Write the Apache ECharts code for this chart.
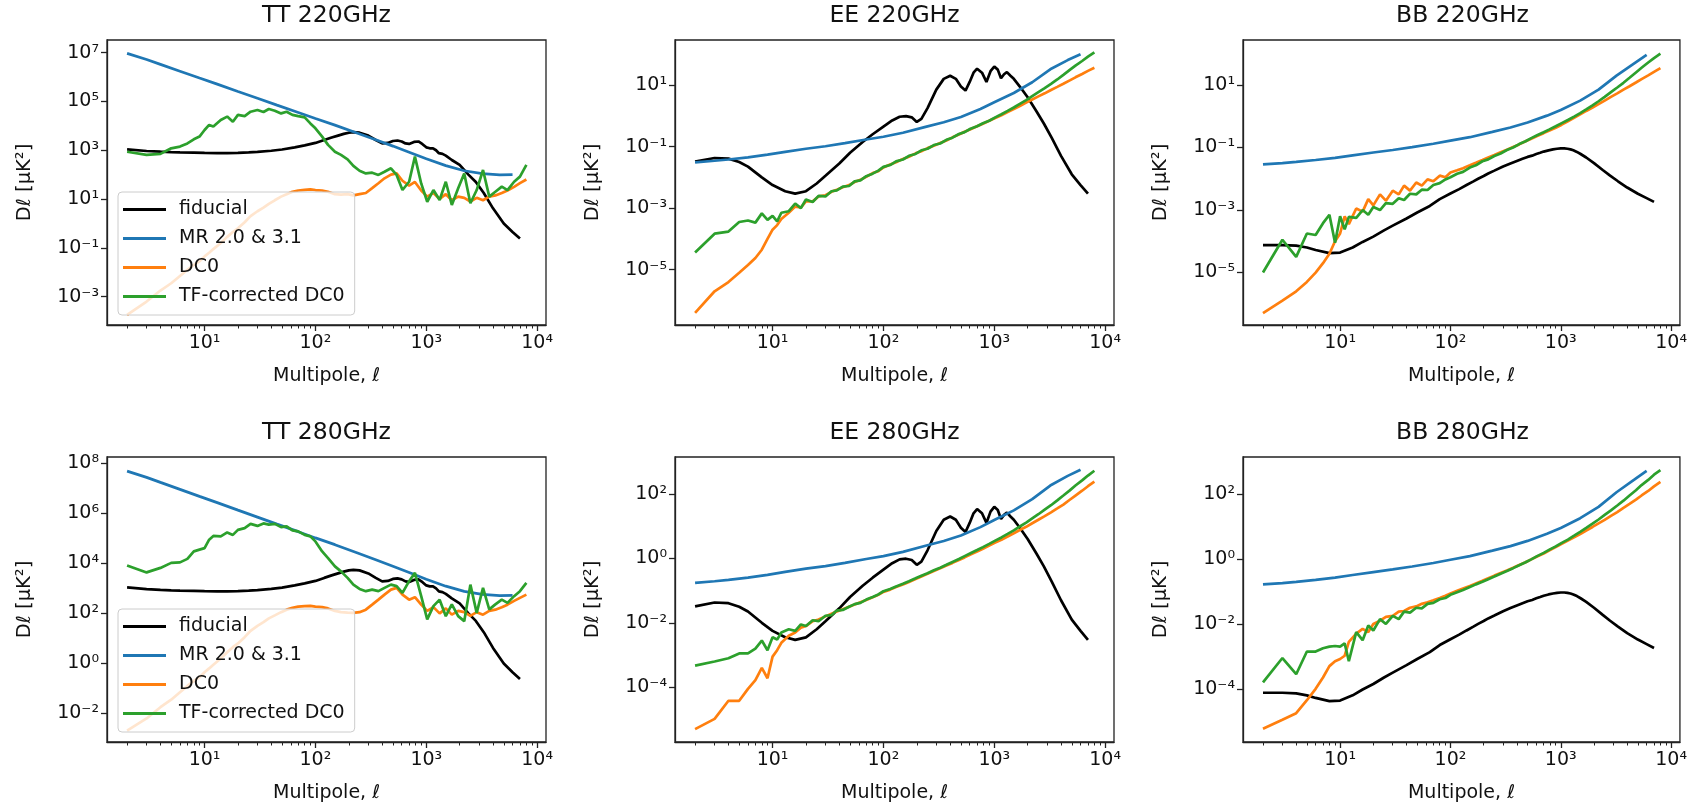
<!DOCTYPE html>
<html>
<head>
<meta charset="utf-8">
<script src="https://cdn.jsdelivr.net/npm/echarts@6/dist/echarts.min.js"></script>
<style>
html, body { margin: 0; padding: 0; background: #fff; }
#container { width: 1690px; height: 806px; }
</style>
</head>
<body>
<div id="container"></div>
<script>
// multipole grids
var ellMR = [2, 3, 4, 6, 9, 13, 20, 30, 45, 70, 100, 150, 240, 350, 500, 750, 1000, 1500, 2200, 3200, 4600, 6000];
var ellFid = [2, 3, 4, 5, 6, 8, 10, 13, 16, 20, 25, 30, 40, 50, 65, 80, 100, 120, 140, 160, 180, 200, 220, 250, 300, 350, 400, 450, 500, 550, 600, 650, 700, 775, 850, 925, 1000, 1075, 1150, 1225, 1300, 1400, 1500, 1700, 2000, 2400, 2800, 3300, 4000, 5000, 6000, 7000];
var ellDC0 = [2, 3, 4, 5, 6, 7, 8, 9, 10, 11, 12, 14, 16, 18, 20, 23, 26, 30, 34, 38, 43, 49, 55, 62, 70, 80, 90, 100, 115, 130, 150, 170, 195, 220, 250, 285, 325, 370, 420, 480, 540, 610, 700, 790, 900, 1020, 1160, 1320, 1500, 1700, 1940, 2200, 2500, 2850, 3250, 3700, 4200, 4800, 5400, 6200, 7000, 8000];

// all spectra below are log10(Dl / uK^2)

// fiducial (same at both frequencies)
var fidTT = [3.04, 2.97, 2.94, 2.92, 2.91, 2.90, 2.89, 2.88, 2.88, 2.89, 2.91, 2.93, 2.98, 3.03, 3.12, 3.2, 3.3, 3.42, 3.52, 3.6, 3.67, 3.72, 3.74, 3.72, 3.6, 3.42, 3.28, 3.3, 3.38, 3.4, 3.36, 3.28, 3.26, 3.34, 3.36, 3.25, 3.12, 3.08, 3.08, 3.0, 2.88, 2.85, 2.78, 2.6, 2.4, 2.0, 1.7, 1.25, 0.62, 0.0, -0.35, -0.62];
var fidEE = [-1.49, -1.37, -1.39, -1.5, -1.65, -2.0, -2.25, -2.45, -2.53, -2.45, -2.2, -1.95, -1.55, -1.2, -0.85, -0.6, -0.35, -0.15, -0.03, -0.01, -0.05, -0.2, -0.1, 0.25, 0.85, 1.2, 1.3, 1.2, 0.95, 0.82, 1.1, 1.4, 1.53, 1.4, 1.1, 1.45, 1.6, 1.5, 1.22, 1.35, 1.42, 1.3, 1.2, 0.95, 0.6, 0.15, -0.25, -0.72, -1.3, -1.9, -2.25, -2.53];
var fidBB = [-4.12, -4.12, -4.14, -4.2, -4.28, -4.38, -4.36, -4.2, -4.02, -3.85, -3.65, -3.5, -3.27, -3.08, -2.87, -2.65, -2.47, -2.33, -2.2, -2.09, -1.99, -1.91, -1.83, -1.74, -1.61, -1.51, -1.43, -1.36, -1.3, -1.26, -1.21, -1.17, -1.13, -1.09, -1.06, -1.04, -1.03, -1.03, -1.04, -1.06, -1.09, -1.14, -1.2, -1.32, -1.5, -1.72, -1.9, -2.08, -2.28, -2.48, -2.62, -2.74];

// MR 2.0 & 3.1 noise
var mrTT220 = [6.97, 6.72, 6.52, 6.24, 5.96, 5.71, 5.41, 5.13, 4.85, 4.55, 4.30, 4.03, 3.70, 3.43, 3.17, 2.87, 2.65, 2.37, 2.16, 2.04, 1.99, 2.0];
var mrEE220 = [-1.51, -1.46, -1.42, -1.35, -1.26, -1.17, -1.07, -0.99, -0.89, -0.77, -0.68, -0.55, -0.36, -0.21, -0.04, 0.22, 0.44, 0.74, 1.09, 1.51, 1.81, 2.0];
var mrBB220 = [-1.54, -1.5, -1.46, -1.4, -1.33, -1.25, -1.16, -1.08, -0.99, -0.88, -0.78, -0.67, -0.5, -0.36, -0.2, 0.02, 0.2, 0.5, 0.85, 1.3, 1.68, 1.96];
var mrTT280 = [7.69, 7.44, 7.24, 6.96, 6.68, 6.43, 6.13, 5.85, 5.57, 5.27, 5.02, 4.75, 4.42, 4.15, 3.89, 3.59, 3.37, 3.09, 2.88, 2.76, 2.71, 2.72];
var mrEE280 = [-0.76, -0.71, -0.67, -0.6, -0.51, -0.42, -0.32, -0.24, -0.14, -0.02, 0.07, 0.2, 0.39, 0.54, 0.71, 0.97, 1.19, 1.49, 1.84, 2.26, 2.56, 2.75];
var mrBB280 = [-0.78, -0.74, -0.7, -0.64, -0.57, -0.49, -0.4, -0.32, -0.23, -0.12, -0.02, 0.09, 0.26, 0.4, 0.56, 0.78, 0.96, 1.26, 1.61, 2.06, 2.44, 2.72];

// DC0
var dc0TT220 = [-3.75, -3.2, -2.75, -2.45, -2.15, -1.9, -1.7, -1.55, -1.35, -1.2, -1.05, -0.8, -0.55, -0.35, -0.2, 0.05, 0.3, 0.5, 0.65, 0.8, 0.95, 1.1, 1.2, 1.3, 1.35, 1.38, 1.4, 1.37, 1.35, 1.3, 1.2, 1.18, 1.2, 1.15, 1.2, 1.25, 1.45, 1.65, 1.85, 2.0, 2.05, 1.75, 1.55, 1.7, 1.35, 1.1, 1.25, 1.0, 1.2, 0.95, 1.1, 1.05, 0.9, 1.05, 0.95, 1.1, 1.15, 1.25, 1.35, 1.5, 1.65, 1.8];
var dc0EE220 = [-6.4, -5.7, -5.4, -5.1, -4.85, -4.62, -4.35, -4.0, -3.7, -3.55, -3.35, -3.15, -2.95, -2.98, -2.78, -2.78, -2.62, -2.58, -2.47, -2.4, -2.32, -2.25, -2.15, -2.08, -1.98, -1.86, -1.8, -1.68, -1.58, -1.51, -1.4, -1.33, -1.22, -1.15, -1.05, -0.97, -0.88, -0.8, -0.7, -0.61, -0.52, -0.44, -0.34, -0.26, -0.16, -0.07, 0.02, 0.12, 0.22, 0.32, 0.43, 0.53, 0.63, 0.73, 0.84, 0.94, 1.04, 1.15, 1.25, 1.36, 1.46, 1.56];
var dc0BB220 = [-6.3, -5.9, -5.6, -5.3, -5.0, -4.7, -4.4, -4.0, -3.75, -3.2, -3.45, -2.95, -3.05, -2.65, -2.85, -2.5, -2.7, -2.38, -2.5, -2.22, -2.38, -2.12, -2.22, -2.02, -2.08, -1.9, -1.95, -1.8, -1.73, -1.66, -1.57, -1.49, -1.4, -1.32, -1.24, -1.15, -1.07, -0.98, -0.9, -0.8, -0.72, -0.63, -0.54, -0.46, -0.37, -0.27, -0.16, -0.05, 0.06, 0.17, 0.28, 0.39, 0.5, 0.62, 0.73, 0.85, 0.96, 1.08, 1.19, 1.31, 1.42, 1.54];
var dc0TT280 = [-2.69, -2.2, -1.75, -1.45, -1.15, -0.9, -0.7, -0.55, -0.35, -0.2, -0.05, 0.2, 0.45, 0.65, 0.8, 1.05, 1.3, 1.5, 1.65, 1.8, 1.92, 2.05, 2.15, 2.22, 2.27, 2.29, 2.3, 2.27, 2.25, 2.2, 2.1, 2.05, 2.03, 2.02, 2.05, 2.15, 2.35, 2.55, 2.75, 2.95, 3.02, 2.75, 2.55, 2.65, 2.35, 2.1, 2.25, 2.0, 2.2, 1.95, 2.1, 2.05, 1.9, 2.05, 1.95, 2.1, 2.15, 2.25, 2.35, 2.5, 2.62, 2.75];
var dc0EE280 = [-5.3, -4.98, -4.42, -4.42, -4.05, -3.78, -3.4, -3.72, -3.05, -2.85, -2.62, -2.4, -2.3, -2.15, -2.1, -1.95, -1.9, -1.8, -1.72, -1.65, -1.58, -1.5, -1.43, -1.36, -1.29, -1.21, -1.13, -1.04, -0.97, -0.89, -0.81, -0.73, -0.64, -0.56, -0.48, -0.39, -0.31, -0.22, -0.14, -0.05, 0.03, 0.12, 0.21, 0.3, 0.4, 0.49, 0.58, 0.68, 0.78, 0.88, 0.98, 1.09, 1.2, 1.31, 1.43, 1.55, 1.67, 1.82, 1.95, 2.1, 2.24, 2.38];
var dc0BB280 = [-5.23, -4.95, -4.75, -4.35, -4.0, -3.65, -3.3, -3.15, -3.08, -2.98, -2.55, -2.3, -2.15, -2.25, -2.0, -1.9, -1.78, -1.75, -1.62, -1.6, -1.5, -1.46, -1.38, -1.33, -1.27, -1.2, -1.13, -1.06, -0.98, -0.91, -0.83, -0.75, -0.67, -0.59, -0.51, -0.43, -0.35, -0.27, -0.18, -0.1, -0.01, 0.08, 0.17, 0.27, 0.37, 0.47, 0.57, 0.67, 0.77, 0.88, 0.99, 1.1, 1.21, 1.33, 1.45, 1.58, 1.7, 1.83, 1.96, 2.1, 2.24, 2.38];

// TF-corrected DC0
var tfTT220 = [2.94, 2.81, 2.85, 3.08, 3.15, 3.28, 3.45, 3.56, 3.83, 4.04, 3.97, 4.24, 4.38, 4.17, 4.45, 4.40, 4.58, 4.65, 4.57, 4.69, 4.62, 4.51, 4.58, 4.45, 4.40, 4.35, 4.10, 3.90, 3.56, 3.22, 2.94, 2.81, 2.63, 2.36, 2.16, 2.05, 2.08, 1.99, 2.12, 2.26, 1.99, 1.37, 1.71, 2.74, 1.64, 0.89, 1.37, 0.96, 1.71, 0.76, 1.44, 2.05, 0.83, 1.37, 2.19, 1.10, 1.30, 1.51, 1.37, 1.71, 1.92, 2.40];
var tfEE220 = [-4.44, -3.83, -3.76, -3.45, -3.4, -3.47, -3.17, -3.38, -3.25, -3.43, -3.15, -3.1, -2.85, -3.0, -2.72, -2.8, -2.6, -2.62, -2.45, -2.42, -2.3, -2.28, -2.13, -2.1, -1.96, -1.88, -1.78, -1.66, -1.6, -1.48, -1.42, -1.3, -1.24, -1.12, -1.07, -0.95, -0.9, -0.78, -0.71, -0.59, -0.53, -0.42, -0.34, -0.24, -0.16, -0.05, 0.05, 0.16, 0.27, 0.39, 0.51, 0.64, 0.77, 0.9, 1.04, 1.18, 1.33, 1.49, 1.63, 1.78, 1.92, 2.06];
var tfBB220 = [-5.0, -3.95, -4.5, -3.75, -3.8, -3.42, -3.15, -4.05, -3.2, -3.62, -3.22, -3.25, -3.0, -3.15, -2.9, -3.0, -2.78, -2.8, -2.62, -2.68, -2.48, -2.5, -2.35, -2.36, -2.2, -2.14, -2.02, -1.95, -1.84, -1.78, -1.64, -1.57, -1.44, -1.38, -1.27, -1.19, -1.08, -1.0, -0.89, -0.8, -0.7, -0.61, -0.51, -0.42, -0.32, -0.22, -0.12, -0.01, 0.1, 0.22, 0.35, 0.48, 0.62, 0.77, 0.92, 1.07, 1.23, 1.4, 1.55, 1.72, 1.86, 2.0];
var tfTT280 = [3.92, 3.64, 3.82, 4.02, 4.04, 4.18, 4.48, 4.55, 4.61, 4.95, 5.1, 5.08, 5.24, 5.14, 5.34, 5.41, 5.58, 5.5, 5.6, 5.55, 5.58, 5.45, 5.48, 5.32, 5.28, 5.14, 5.08, 4.88, 4.48, 4.21, 3.88, 3.68, 3.42, 3.15, 2.98, 2.89, 2.95, 2.89, 3.02, 3.15, 3.09, 2.82, 3.29, 3.62, 2.69, 1.76, 2.29, 2.55, 1.89, 2.36, 1.89, 1.69, 3.15, 2.02, 3.02, 2.16, 2.36, 2.55, 2.42, 2.69, 2.89, 3.22];
var tfEE280 = [-3.33, -3.2, -3.1, -2.95, -2.95, -2.8, -2.55, -2.85, -2.45, -2.52, -2.3, -2.2, -2.25, -2.05, -2.1, -1.92, -1.95, -1.78, -1.76, -1.62, -1.6, -1.5, -1.42, -1.38, -1.28, -1.2, -1.12, -1.02, -0.95, -0.87, -0.79, -0.71, -0.62, -0.54, -0.46, -0.37, -0.29, -0.2, -0.11, -0.02, 0.07, 0.16, 0.26, 0.35, 0.45, 0.55, 0.65, 0.76, 0.87, 0.99, 1.11, 1.24, 1.37, 1.51, 1.65, 1.8, 1.95, 2.11, 2.26, 2.42, 2.57, 2.72];
var tfBB280 = [-3.8, -3.05, -3.55, -2.85, -2.85, -2.75, -2.7, -2.68, -2.7, -2.6, -3.15, -2.25, -2.5, -2.05, -2.2, -1.85, -2.0, -1.75, -1.85, -1.62, -1.65, -1.5, -1.52, -1.38, -1.35, -1.24, -1.2, -1.1, -1.02, -0.95, -0.86, -0.78, -0.7, -0.62, -0.54, -0.45, -0.37, -0.28, -0.19, -0.1, -0.01, 0.09, 0.19, 0.29, 0.39, 0.5, 0.6, 0.72, 0.84, 0.96, 1.09, 1.22, 1.36, 1.5, 1.65, 1.8, 1.96, 2.12, 2.28, 2.44, 2.6, 2.74];

// ticks
var xMajor = [10, 100, 1000, 10000];
var xMinor = [2, 3, 4, 5, 6, 7, 8, 9, 20, 30, 40, 50, 60, 70, 80, 90, 200, 300, 400, 500, 600, 700, 800, 900, 2000, 3000, 4000, 5000, 6000, 7000, 8000, 9000];
var yTicksTT220 = [1e-3, 1e-1, 1e1, 1e3, 1e5, 1e7];
var yTicksTT280 = [1e-2, 1e0, 1e2, 1e4, 1e6, 1e8];
var yTicksPol220 = [1e-5, 1e-3, 1e-1, 1e1];
var yTicksPol280 = [1e-4, 1e-2, 1e0, 1e2];

var seriesNames = ['fiducial', 'MR 2.0 & 3.1', 'DC0', 'TF-corrected DC0'];
var seriesColors = ['#000000', '#1f77b4', '#ff7f0e', '#2ca02c'];

var panels = [
    { title: 'TT 220GHz', fid: fidTT, mr: mrTT220, dc0: dc0TT220, tf: tfTT220, yTicks: yTicksTT220, yMin: 6.9e-5, yMax: 3.3e7, legend: true },
    { title: 'EE 220GHz', fid: fidEE, mr: mrEE220, dc0: dc0EE220, tf: tfEE220, yTicks: yTicksPol220, yMin: 1.6e-7, yMax: 2.9e2 },
    { title: 'BB 220GHz', fid: fidBB, mr: mrBB220, dc0: dc0BB220, tf: tfBB220, yTicks: yTicksPol220, yMin: 2.1e-7, yMax: 2.75e2 },
    { title: 'TT 280GHz', fid: fidTT, mr: mrTT280, dc0: dc0TT280, tf: tfTT280, yTicks: yTicksTT280, yMin: 7.2e-4, yMax: 1.8e8, legend: true },
    { title: 'EE 280GHz', fid: fidEE, mr: mrEE280, dc0: dc0EE280, tf: tfEE280, yTicks: yTicksPol280, yMin: 2.0e-6, yMax: 1.4e3 },
    { title: 'BB 280GHz', fid: fidBB, mr: mrBB280, dc0: dc0BB280, tf: tfBB280, yTicks: yTicksPol280, yMin: 2.3e-6, yMax: 1.4e3 }
];

var dom = document.getElementById('container');
var myChart = echarts.init(dom, null, { renderer: 'canvas' });

var FONT = 'DejaVu Sans';
var INK = '#111';
var sup = { '0': '⁰', '1': '¹', '2': '²', '3': '³', '4': '⁴', '5': '⁵', '6': '⁶', '7': '⁷', '8': '⁸', '9': '⁹', '-': '⁻' };

function powLabel(v) {
    var e = String(Math.round(Math.log10(v)));
    return '10' + e.split('').map(function (c) { return sup[c]; }).join('');
}

function toPairs(ell, logD) {
    return ell.map(function (l, k) { return [l, Math.pow(10, logD[k])]; });
}

// layout of the 2x3 panel grid
var colLeft = [107, 675, 1243];
var rowTop = [40, 457];
var boxW = 439, boxH = 285;

var option = {
    animation: false,
    textStyle: { fontFamily: FONT },
    title: [],
    legend: [],
    grid: [],
    xAxis: [],
    yAxis: [],
    series: []
};

panels.forEach(function (p, i) {
    var row = Math.floor(i / 3), col = i % 3;
    var left = colLeft[col], top = rowTop[row];

    option.title.push({
        text: p.title,
        left: left + boxW / 2,
        top: top - 36,
        textAlign: 'center',
        padding: 0,
        textStyle: { fontSize: 23.5, fontWeight: 'normal', color: INK, fontFamily: FONT }
    });

    option.grid.push({
        left: left, top: top, width: boxW, height: boxH,
        show: true, borderColor: '#222', borderWidth: 1.3,
        backgroundColor: 'transparent'
    });

    // major x ticks + labels
    option.xAxis.push({
        type: 'log', logBase: 10, gridIndex: i, position: 'bottom',
        min: 1.318, max: 12023,
        axisLine: { show: true, lineStyle: { color: '#222', width: 1.3 } },
        axisTick: { show: true, length: 6, customValues: xMajor, lineStyle: { color: '#222', width: 1.3 } },
        axisLabel: { customValues: xMajor, formatter: powLabel, fontSize: 19, color: INK, margin: 9, fontFamily: FONT },
        splitLine: { show: false },
        name: 'Multipole, ℓ', nameLocation: 'middle', nameGap: 42,
        nameTextStyle: { fontSize: 19, color: INK, fontFamily: FONT }
    });
    // minor x ticks
    option.xAxis.push({
        type: 'log', logBase: 10, gridIndex: i, position: 'bottom',
        min: 1.318, max: 12023,
        axisLine: { show: false },
        axisTick: { show: true, length: 3.5, customValues: xMinor, lineStyle: { color: '#222', width: 1 } },
        axisLabel: { show: false },
        splitLine: { show: false }
    });

    option.yAxis.push({
        type: 'log', logBase: 10, gridIndex: i,
        min: p.yMin, max: p.yMax,
        axisLine: { show: true, lineStyle: { color: '#222', width: 1.3 } },
        axisTick: { show: true, length: 6, customValues: p.yTicks, lineStyle: { color: '#222', width: 1.3 } },
        axisLabel: { customValues: p.yTicks, formatter: powLabel, fontSize: 19, color: INK, margin: 8, fontFamily: FONT },
        splitLine: { show: false },
        name: 'Dℓ [μK²]', nameLocation: 'middle', nameRotate: 90, nameGap: 72,
        nameTextStyle: { fontSize: 19.5, color: INK, fontFamily: FONT }
    });

    var curves = [
        toPairs(ellFid, p.fid),
        toPairs(ellMR, p.mr),
        toPairs(ellDC0, p.dc0),
        toPairs(ellDC0, p.tf)
    ];
    curves.forEach(function (d, k) {
        option.series.push({
            type: 'line',
            name: seriesNames[k],
            xAxisIndex: 2 * i,
            yAxisIndex: i,
            data: d,
            symbol: 'none',
            showSymbol: false,
            silent: true,
            lineStyle: { color: seriesColors[k], width: 2.7 },
            itemStyle: { color: seriesColors[k] }
        });
    });

    if (p.legend) {
        option.legend.push({
            orient: 'vertical',
            left: left + 11,
            top: top + 152,
            data: seriesNames,
            icon: 'rect',
            itemWidth: 43,
            itemHeight: 3,
            itemGap: 6,
            selectedMode: false,
            padding: [6, 10, 7, 5],
            backgroundColor: 'rgba(255,255,255,0.8)',
            borderColor: '#cccccc',
            borderWidth: 1,
            borderRadius: 4,
            textStyle: { fontSize: 19, lineHeight: 23, color: INK, fontFamily: FONT, padding: [0, 0, 0, 8] }
        });
    }
});

myChart.setOption(option);
window.addEventListener('resize', myChart.resize);
</script>
</body>
</html>
